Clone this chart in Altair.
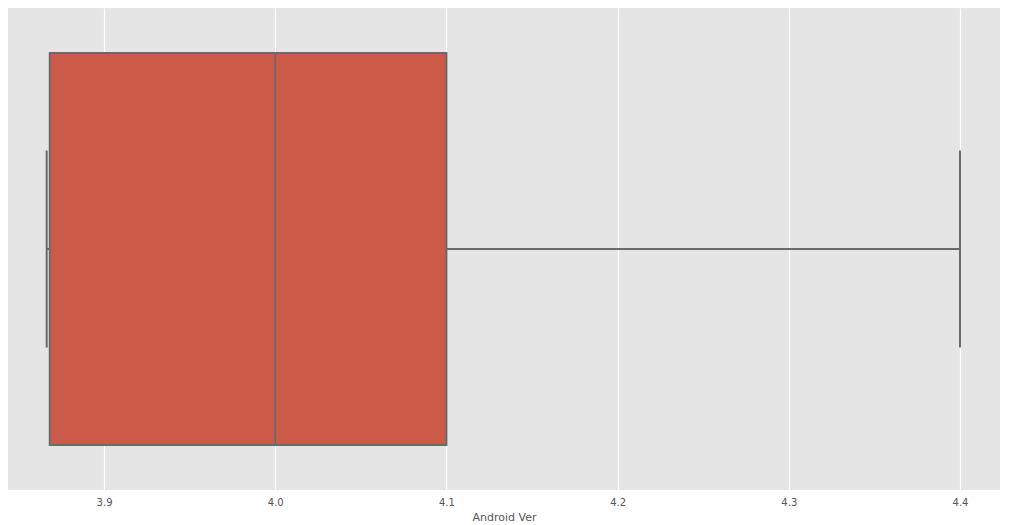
import altair as alt
import pandas as pd

# Box-plot summary of "Android Ver"
group = [""]
lower_whisker = [3.8665]
q1 = [3.8683]
median = [4.0]
q3 = [4.1]
upper_whisker = [4.4]

df = pd.DataFrame({
    "g": group,
    "lower": lower_whisker,
    "q1": q1,
    "median": median,
    "q3": q3,
    "upper": upper_whisker,
})

LINE = "#6a6a6a"
FILL = "#cc5a49"

xscale = alt.Scale(domain=[3.8439, 4.42336], nice=False, zero=False)
yscale = alt.Scale(paddingInner=0, paddingOuter=0.1148)

x_axis = alt.Axis(
    values=[3.9, 4.0, 4.1, 4.2, 4.3, 4.4],
    format=".1f",
    title="Android Ver",
    grid=True,
    gridColor="white",
    gridWidth=1.2,
    domain=False,
    ticks=False,
    labelPadding=7,
    labelFontSize=10,
    labelColor="#555555",
    labelFont="DejaVu Sans",
    titleFont="DejaVu Sans",
    titleFontSize=11,
    titleFontWeight="normal",
    titleColor="#555555",
    titlePadding=4,
)

y_enc = alt.Y("g:N", scale=yscale, axis=None)

base = alt.Chart(df)

whisker_hi = base.mark_rule(color=LINE, strokeWidth=2).encode(
    x=alt.X("q3:Q", scale=xscale, axis=x_axis), x2="upper:Q", y=y_enc
)
whisker_lo = base.mark_rule(color=LINE, strokeWidth=2).encode(
    x=alt.X("lower:Q", scale=xscale), x2="q1:Q", y=y_enc
)
box = base.mark_bar(color=FILL, stroke=LINE, strokeWidth=2).encode(
    x=alt.X("q1:Q", scale=xscale), x2="q3:Q", y=y_enc
)
med = base.mark_tick(color=LINE, size=392, thickness=1.8, opacity=1).encode(
    x=alt.X("median:Q", scale=xscale), y=y_enc
)
cap_lo = base.mark_tick(color=LINE, size=197, thickness=2, opacity=1).encode(
    x=alt.X("lower:Q", scale=xscale), y=y_enc
)
cap_hi = base.mark_tick(color=LINE, size=197, thickness=2, opacity=1).encode(
    x=alt.X("upper:Q", scale=xscale), y=y_enc
)

chart = (
    alt.layer(whisker_hi, whisker_lo, box, med, cap_lo, cap_hi)
    .properties(width=992, height=482, padding={"left": 0, "top": 0, "right": 0, "bottom": 0})
    .configure(background="white")
    .configure_view(fill="#E5E5E5", strokeWidth=0)
)

chart.save("out.html", embed_options={"renderer": "svg", "actions": False})
